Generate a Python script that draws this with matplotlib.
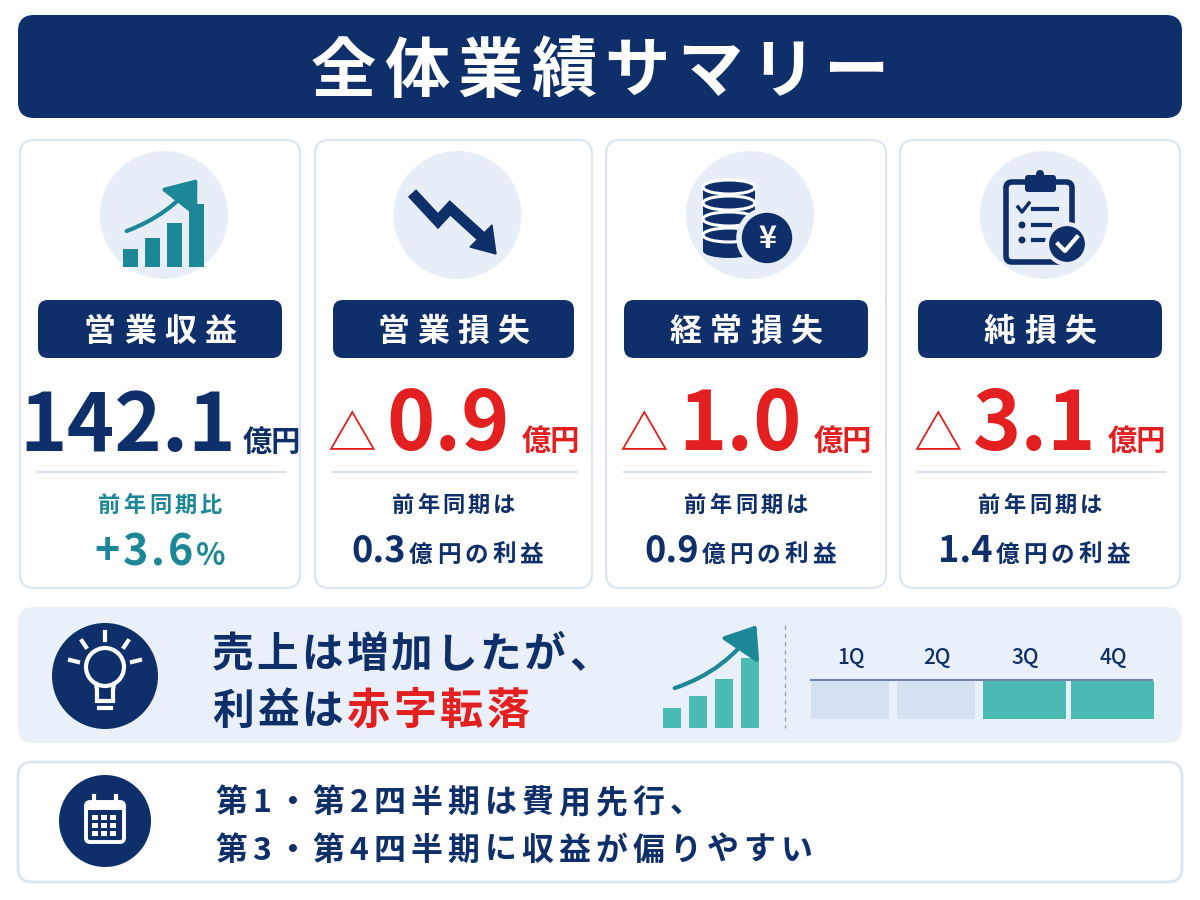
import matplotlib
matplotlib.use('Agg')
import matplotlib.pyplot as plt
from matplotlib.patches import FancyBboxPatch, Circle, Polygon, Rectangle, FancyArrowPatch, Ellipse

# ---- data ----
title = '全体業績サマリー'
labels = ['営業収益', '営業損失', '経常損失', '純損失']
values = [142.1, -0.9, -1.0, -3.1]          # 億円
prev_profit = [None, 0.3, 0.9, 1.4]          # 前年同期の利益 (億円)
yoy_pct = 3.6                                # 前年同期比 (%)
quarters = ['1Q', '2Q', '3Q', '4Q']
quarter_strong = [False, False, True, True]  # 収益が偏る四半期
trend_bars = [20, 32, 49, 70]                # 小さい棒グラフの高さ
msg1 = ['売上は増加したが、', '利益は', '赤字転落']
msg2 = ['第1・第2四半期は費用先行、', '第3・第4四半期に収益が偏りやすい']

NAVY = '#0e2f69'
RED = '#e3201f'
TEAL = '#1c8796'
TEAL2 = '#4bbab3'
LIGHT = '#e8eef8'
BORDER = '#dbe4f1'
JP = ['Noto Sans CJK JP', 'DejaVu Sans']

fig = plt.figure(figsize=(12, 9), dpi=100)
ax = fig.add_axes([0, 0, 1, 1])
ax.set_xlim(0, 1200)
ax.set_ylim(900, 0)
ax.axis('off')
fig.patch.set_facecolor('white')
renderer = fig.canvas.get_renderer()


def rbox(x0, y0, x1, y1, r, fc, ec='none', lw=0, z=1):
    ax.add_patch(FancyBboxPatch((x0, y0), x1 - x0, y1 - y0,
                                boxstyle=f'round,pad=0,rounding_size={r}',
                                fc=fc, ec=ec, lw=lw, zorder=z))


def width_of(s, size, weight):
    t = ax.text(0, 0, s, fontsize=size, fontweight=weight, family=JP)
    w = t.get_window_extent(renderer).width
    t.remove()
    return w


def runs(x, y, parts, ha='center', z=5):
    # parts: (text, size, color, weight, tracking, gap_after)
    items = []
    for s, size, color, weight, track, gap in parts:
        chars = list(s) if track else [s]
        for i, c in enumerate(chars):
            w = width_of(c, size, weight)
            extra = track if (track and i < len(chars) - 1) else 0
            if i == len(chars) - 1:
                extra += gap
            items.append((c, size, color, weight, w, extra))
    total = sum(it[4] + it[5] for it in items)
    cx = x - total / 2 if ha == 'center' else x
    for c, size, color, weight, w, extra in items:
        ax.text(cx, y, c, fontsize=size, color=color, fontweight=weight,
                family=JP, va='baseline', ha='left', zorder=z)
        cx += w + extra


# ---- header ----
rbox(18, 15, 1182, 118, 16, NAVY)
runs(600, 92, [(title, 47, 'white', 'bold', 8, 0)])

# ---- cards ----
card_x = [(20, 300), (315, 592), (606, 886), (900, 1180)]
for k, (x0, x1) in enumerate(card_x):
    cx = (x0 + x1) / 2
    rbox(x0, 140, x1, 588, 14, 'white', BORDER, 1.5)
    ax.add_patch(Circle((cx + 4, 215), 64, fc=LIGHT, ec='none', zorder=2))

    # label pill
    rbox(x0 + 18, 300, x1 - 18, 358, 10, NAVY, z=3)
    runs(cx, 341, [(labels[k], 23, 'white', 'bold', 8, 0)])

    v = values[k]
    if v >= 0:
        runs(cx, 451, [(f'{v:.1f}', 58, NAVY, 'bold', 0, 6),
                       ('億円', 21, NAVY, 'bold', 0, 0)])
    else:
        runs(cx, 450, [('△', 35, RED, 'normal', 0, 10),
                       (f'{abs(v):.1f}', 59, RED, 'bold', 0, 12),
                       ('億円', 21, RED, 'bold', 0, 0)])

    ax.plot([x0 + 18, x1 - 15], [472, 472], color='#d6e0ee', lw=1.5, zorder=3)

    if prev_profit[k] is None:
        runs(cx, 512, [('前年同期比', 16, TEAL, 'bold', 3, 0)])
        runs(cx, 565, [(f'+{yoy_pct:.1f}', 31, TEAL, 'bold', 3, 3),
                       ('%', 22, TEAL, 'bold', 0, 0)])
    else:
        runs(cx, 512, [('前年同期は', 16, NAVY, 'bold', 3, 0)])
        runs(cx - 6, 562, [(f'{prev_profit[k]:.1f}', 26, NAVY, 'bold', 0, 3),
                           ('億円の利益', 17, NAVY, 'bold', 4, 0)])

# icon 1: rising bars
for i, h in enumerate(trend_bars):
    ax.add_patch(Rectangle((123 + i * 22, 267 - h * 0.9), 15, h * 0.9,
                           fc=TEAL, ec='none', zorder=4))
ax.add_patch(FancyArrowPatch((124, 232), (199, 177),
                             connectionstyle='arc3,rad=0.15',
                             arrowstyle='-|>,head_length=9,head_width=7',
                             mutation_scale=2.0, lw=3, color=TEAL, zorder=4))

# icon 2: falling zigzag
zx = [412, 438, 450, 485]
zy = [193, 221, 208, 240]
ax.plot(zx, zy, color=NAVY, lw=8, solid_capstyle='butt', solid_joinstyle='miter', zorder=4)
ax.add_patch(Polygon([[470, 247], [492, 225], [496, 254]], closed=True,
                     fc=NAVY, ec=NAVY, lw=1, zorder=4))

# icon 3: coin stack + yen
sx, sw = 729, 52
for i in range(4):
    yy = 243 - i * 16
    ax.add_patch(Rectangle((sx - sw / 2, yy - 8), sw, 16, fc=NAVY, ec='none', zorder=4))
    ax.add_patch(Ellipse((sx, yy + 8), sw, 14, fc=NAVY, ec='none', zorder=4))
for i in range(4):
    yy = 243 - i * 16
    ax.add_patch(Ellipse((sx, yy - 8), sw, 14, fc=NAVY, ec='white', lw=2.2, zorder=4))
ax.add_patch(Circle((767, 238), 28, fc=NAVY, ec=LIGHT, lw=4, zorder=5))
ax.text(767, 239, '¥', color='white', fontsize=22, fontweight='bold',
        ha='center', va='center', family=JP, zorder=6)

# icon 4: clipboard
rbox(1006, 182, 1072, 262, 6, 'none', NAVY, 4, z=4)
rbox(1025, 175, 1056, 192, 3, NAVY, z=5)
ax.add_patch(Circle((1040, 174), 4, fc=NAVY, ec='none', zorder=5))
ax.plot([1018, 1022, 1029], [207, 212, 203], color=NAVY, lw=2.5, zorder=5)
for yy in [225, 240]:
    ax.add_patch(Circle((1022, yy), 3.5, fc=NAVY, ec='none', zorder=5))
for yy, x2 in [(209, 1057), (225, 1050), (240, 1045)]:
    ax.plot([1033, x2], [yy, yy], color=NAVY, lw=3, zorder=5)
ax.add_patch(Circle((1067, 244), 20, fc=NAVY, ec=LIGHT, lw=3, zorder=6))
ax.plot([1058, 1065, 1077], [244, 251, 237], color='white', lw=3, zorder=7)

# ---- message panel ----
rbox(18, 607, 1182, 743, 16, '#eaf0f9')
ax.add_patch(Circle((105, 676), 53, fc=NAVY, ec='none', zorder=3))
ax.add_patch(Circle((105, 667), 19, fc='none', ec='white', lw=3, zorder=4))
ax.plot([96, 97, 97], [684, 690, 700], color='white', lw=3, zorder=4)
ax.plot([114, 113, 113], [684, 690, 700], color='white', lw=3, zorder=4)
ax.plot([97, 113], [701, 701], color='white', lw=3, zorder=4)
ax.plot([99, 111], [708, 708], color='white', lw=3, zorder=4)
for (xa, ya, xb, yb) in [(105, 632, 105, 640), (82, 641, 86, 647), (128, 641, 124, 647),
                         (70, 660, 78, 662), (140, 660, 132, 662)]:
    ax.plot([xa, xb], [ya, yb], color='white', lw=3, zorder=4)

runs(212, 667, [(msg1[0], 30, NAVY, 'bold', 3, 0)], ha='left')
runs(212, 724, [(msg1[1], 30, NAVY, 'bold', 3, 3),
                (msg1[2], 31, RED, 'bold', 4, 0)], ha='left')

for i, h in enumerate(trend_bars):
    ax.add_patch(Rectangle((663 + i * 26, 728 - h), 18, h, fc=TEAL2, ec='none', zorder=3))
ax.add_patch(FancyArrowPatch((672, 689), (758, 623),
                             connectionstyle='arc3,rad=0.18',
                             arrowstyle='-|>,head_length=9,head_width=7',
                             mutation_scale=2.0, lw=3, color=TEAL, zorder=4))
ax.plot([785, 785], [625, 728], color='#9aa6b8', lw=1, ls=(0, (3, 3)), zorder=3)

ax.plot([811, 1152], [680, 680], color='#6f86a8', lw=1.5, zorder=4)
for i, q in enumerate(quarters):
    x0 = 811 + i * 86
    w = 78 if not quarter_strong[i] else 83
    if i == 3:
        x0 = 1071
    col = TEAL2 if quarter_strong[i] else '#d5e1f3'
    ax.add_patch(Rectangle((x0, 681), w, 38, fc=col, ec='none', zorder=3))
    ax.text(x0 + w / 2 + 1, 664, q, fontsize=15, color=NAVY, fontweight='medium',
            ha='center', va='baseline', family=JP, zorder=5)

# ---- note panel ----
rbox(18, 762, 1182, 882, 14, 'white', BORDER, 2)
ax.add_patch(Circle((105, 821), 46, fc=NAVY, ec='none', zorder=3))
rbox(86, 802, 124, 842, 4, 'none', 'white', 2.8, z=4)
ax.add_patch(Rectangle((86, 802), 38, 8, fc='white', ec='none', zorder=4))
for xx in [94, 116]:
    ax.plot([xx, xx], [796, 806], color='white', lw=3, zorder=5)
for r in range(3):
    for c in range(3):
        ax.add_patch(Rectangle((92 + c * 9, 815 + r * 8), 6, 5, fc='white', ec='none', zorder=4))

runs(215, 812, [(msg2[0], 23, NAVY, 'bold', 5, 0)], ha='left')
runs(215, 860, [(msg2[1], 23, NAVY, 'bold', 5, 0)], ha='left')

fig.savefig('out.png', dpi=100)
